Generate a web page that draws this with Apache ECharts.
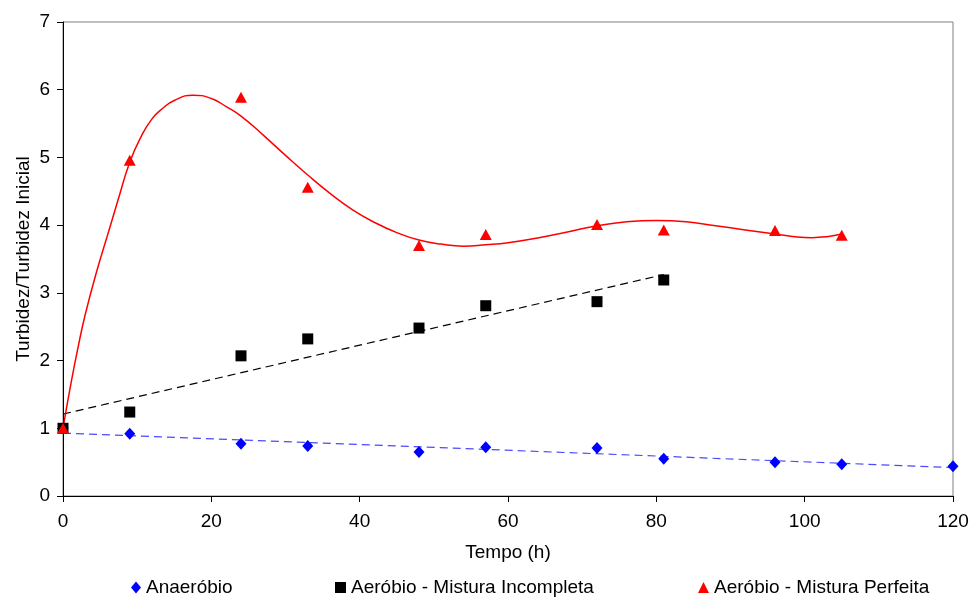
<!DOCTYPE html>
<html>
<head>
<meta charset="utf-8">
<script src="https://cdn.jsdelivr.net/npm/echarts@6/dist/echarts.min.js"></script>
<style>html,body{margin:0;padding:0;background:#fff}#c{width:969px;height:597px}</style>
</head>
<body>
<div id="c"></div>
<script>
// Measured data
var anaTime = [0, 9, 24, 33, 48, 57, 72, 81, 96, 105, 120];
var anaVal  = [1.0, 0.92, 0.77, 0.74, 0.65, 0.72, 0.71, 0.55, 0.50, 0.47, 0.44];
var incTime = [0, 9, 24, 33, 48, 57, 72, 81];
var incVal  = [1.0, 1.24, 2.07, 2.32, 2.48, 2.81, 2.87, 3.19];
var perTime = [0, 9, 24, 33, 48, 57, 72, 81, 96, 105];
var perVal  = [1.0, 4.96, 5.89, 4.56, 3.70, 3.86, 4.01, 3.93, 3.92, 3.85];
// Trend lines
var anaTrendX = [0, 120];
var anaTrendY = [0.93, 0.42];
var incTrendX = [0, 81];
var incTrendY = [1.21, 3.27];
var perTrendX = [0, 1, 2, 3, 4.5, 6, 7.5, 9, 10.5, 12, 13.5, 15, 17.5, 20, 22, 24, 27, 30, 33, 36, 39, 42, 45, 48, 51, 54, 57, 60, 64, 68, 72, 76, 80, 84, 88, 92, 96, 99, 101, 103, 105];
var perTrendY = [1.00, 1.62, 2.18, 2.68, 3.30, 3.85, 4.40, 4.93, 5.30, 5.57, 5.73, 5.84, 5.92, 5.87, 5.75, 5.61, 5.33, 5.03, 4.74, 4.47, 4.23, 4.04, 3.89, 3.78, 3.72, 3.69, 3.71, 3.74, 3.81, 3.90, 3.99, 4.05, 4.07, 4.05, 3.99, 3.93, 3.87, 3.825, 3.815, 3.83, 3.87];
var xTicks = [0, 20, 40, 60, 80, 100, 120];
var yTicks = [0, 1, 2, 3, 4, 5, 6, 7];

var names = ['Anaeróbio', 'Aeróbio - Mistura Incompleta', 'Aeróbio - Mistura Perfeita'];
function zip(a, b) { return a.map(function (v, i) { return [v, b[i]]; }); }
var FONT = '"Liberation Sans", Arial, sans-serif';
var FS = 19;

var chart = echarts.init(document.getElementById('c'), null, {renderer: 'canvas'});
var legendBase = {
  orient: 'horizontal', top: 578, itemWidth: 11, itemHeight: 11, itemGap: 0,
  textStyle: {fontFamily: FONT, fontSize: FS, color: '#000'},
  padding: 0
};
chart.setOption({
  animation: false,
  backgroundColor: '#fff',
  grid: {left: 63, right: 16, top: 22, bottom: 101, containLabel: false, outerBoundsMode: 'none',
         show: true, borderColor: '#808080', borderWidth: 1, backgroundColor: 'transparent'},
  legend: [
    Object.assign({}, legendBase, {left: 131, itemWidth: 10, itemHeight: 12, data: [{name: names[0], icon: 'diamond'}]}),
    Object.assign({}, legendBase, {left: 335, data: [{name: names[1], icon: 'rect'}]}),
    Object.assign({}, legendBase, {left: 698, data: [{name: names[2], icon: 'triangle'}]})
  ],
  xAxis: {
    type: 'value', min: xTicks[0], max: xTicks[xTicks.length - 1], interval: 20,
    name: 'Tempo (h)', nameLocation: 'middle', nameGap: 47,
    nameTextStyle: {fontFamily: FONT, fontSize: FS, color: '#000'},
    axisLine: {show: true, lineStyle: {color: '#000', width: 1}},
    axisTick: {show: true, inside: false, length: 6, lineStyle: {color: '#000'}},
    axisLabel: {fontFamily: FONT, fontSize: FS, color: '#000', margin: 16},
    splitLine: {show: false}
  },
  yAxis: {
    type: 'value', min: yTicks[0], max: yTicks[yTicks.length - 1], interval: 1,
    name: 'Turbidez/Turbidez Inicial', nameLocation: 'middle', nameGap: 30, nameMoveOverlap: false,
    nameTextStyle: {fontFamily: FONT, fontSize: FS, color: '#000'},
    axisLine: {show: true, lineStyle: {color: '#000', width: 1}},
    axisTick: {show: true, inside: false, length: 6, lineStyle: {color: '#000'}},
    axisLabel: {fontFamily: FONT, fontSize: FS, color: '#000', margin: 13},
    splitLine: {show: false}
  },
  series: [
    {type: 'line', data: zip(anaTrendX, anaTrendY), symbol: 'none', silent: true,
     lineStyle: {color: '#4a4aff', width: 1.2, type: [8, 5]}, z: 2},
    {type: 'line', data: zip(incTrendX, incTrendY), symbol: 'none', silent: true,
     lineStyle: {color: '#000', width: 1.2, type: [8, 5]}, z: 2},
    {type: 'line', data: zip(perTrendX, perTrendY), symbol: 'none', silent: true,
     smooth: 0.5,
     lineStyle: {color: '#ff0000', width: 1.5}, z: 2},
    {name: names[0], type: 'scatter', data: zip(anaTime, anaVal), symbol: 'diamond', symbolSize: [11, 12],
     itemStyle: {color: '#0000ff', opacity: 1}, z: 5},
    {name: names[1], type: 'scatter', data: zip(incTime, incVal), symbol: 'rect', symbolSize: [11, 11],
     itemStyle: {color: '#000000', opacity: 1}, z: 5},
    {name: names[2], type: 'scatter', data: zip(perTime, perVal), symbol: 'triangle', symbolSize: [12, 11],
     itemStyle: {color: '#ff0000', opacity: 1}, z: 6}
  ]
});
</script>
</body>
</html>
